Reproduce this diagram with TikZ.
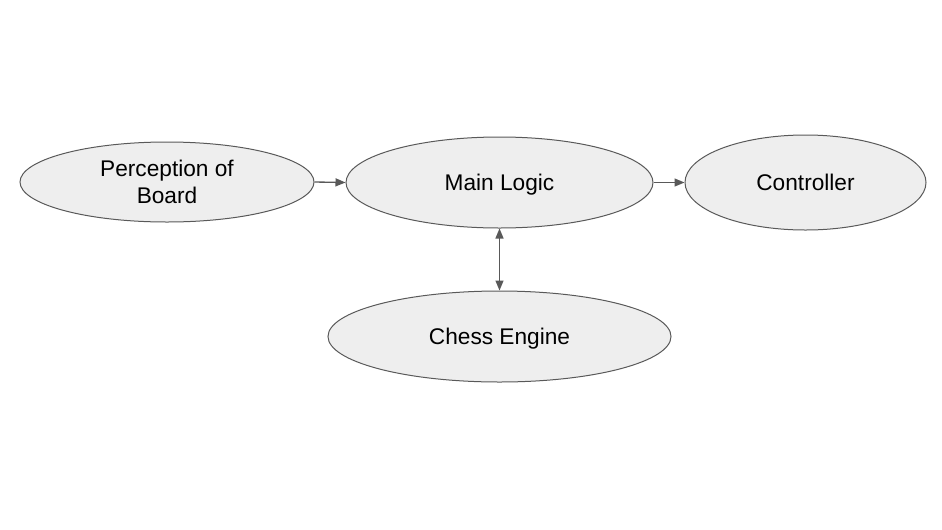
\documentclass[tikz,border=0pt]{standalone}
\usepackage{fontspec}
\setmainfont{Liberation Sans}
\definecolor{ovalFill}{HTML}{EEEEEE}
\definecolor{lineGray}{HTML}{595959}
\usetikzlibrary{arrows.meta, shapes.geometric}

\begin{document}
\begin{tikzpicture}[
  x=0.75pt, y=-0.75pt,
  oval/.style={draw=lineGray, ellipse, fill=ovalFill, inner sep=0pt,
    font=\fontsize{17}{20}\selectfont, align=center, line width=0.75pt,
    text depth=0pt},
  arr/.style={-{Triangle[length=7.5pt, width=6pt]}, line width=1pt, color=lineGray},
  biarr/.style={{Triangle[length=7.5pt, width=6pt]}-{Triangle[length=7.5pt, width=6pt]},
    line width=1pt, color=lineGray}
]
  \useasboundingbox (0,0) rectangle (942,529);

  % Perception block
  \node[oval, minimum width=220.5pt, minimum height=60pt] (percep) at (167,182)
    {Perception of\\Board};

  % Main logic
  \node[oval, minimum width=230.25pt, minimum height=68.25pt] (mainlogic) at (499.5,182.5)
    {Main Logic};

  % Controller
  \node[oval, minimum width=180.75pt, minimum height=71.25pt] (ctrl) at (805.5,182.5)
    {Controller};

  % Chess engine
  \node[oval, minimum width=257.25pt, minimum height=68.25pt] (engine) at (499.5,336.5)
    {Chess Engine};

  % Arrows
  \draw[arr] (percep.east) -- (mainlogic.west);
  \draw[arr] (mainlogic.east) -- (ctrl.west);
  \draw[biarr] (mainlogic.south) -- (engine.north);
\end{tikzpicture}
\end{document}
